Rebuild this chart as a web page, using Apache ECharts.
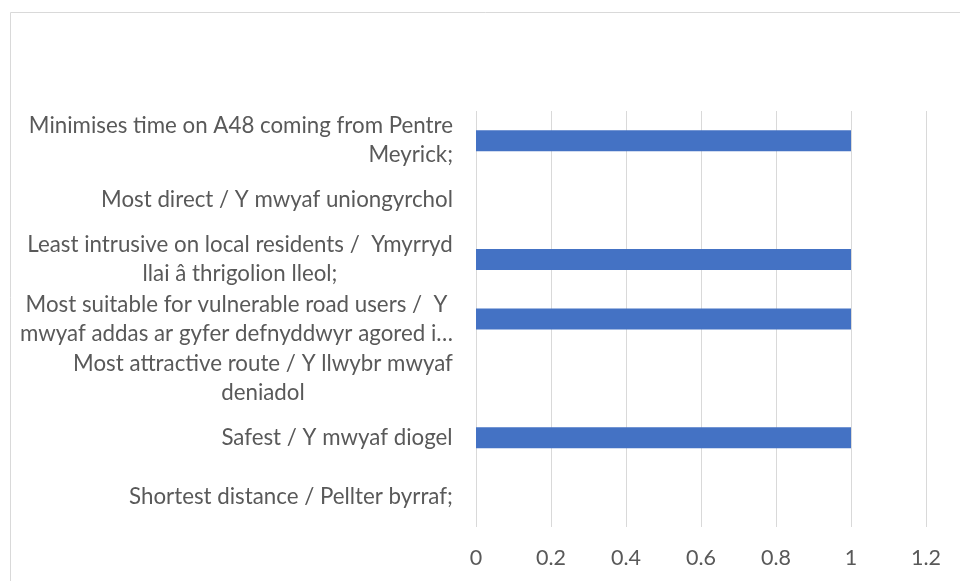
<!DOCTYPE html>
<html><head><meta charset="utf-8">
<script src="https://cdn.jsdelivr.net/npm/echarts@6/dist/echarts.min.js"></script>
<style>html,body{margin:0;padding:0;background:#fff}#c{width:960px;height:581px}</style>
</head><body><div id="c"></div>
<script>
const categories = [
  "Minimises time on A48 coming from Pentre\nMeyrick;",
  "Most direct / Y mwyaf uniongyrchol",
  "Least intrusive on local residents /  Ymyrryd\nllai â thrigolion lleol;",
  "Most suitable for vulnerable road users /  Y\nmwyaf addas ar gyfer defnyddwyr agored i…",
  "Most attractive route / Y llwybr mwyaf\ndeniadol",
  "Safest / Y mwyaf diogel",
  "Shortest distance / Pellter byrraf;"
];
const values = [1, 0, 1, 1, 0, 1, 0];
const xTicks = [0, 0.2, 0.4, 0.6, 0.8, 1, 1.2];

const FONT = 'Lato, "Open Sans", sans-serif';
const FS = 22.3;
const ctx = document.createElement('canvas').getContext('2d');
ctx.font = FS + 'px ' + FONT;
const rich = {};
categories.forEach((c, i) => {
  const w = Math.max(...c.split('\n').map(l => ctx.measureText(l).width));
  rich['l' + i] = {width: Math.ceil(w), align: i === 0 ? 'right' : 'center', fontSize: FS, fontFamily: FONT, color: '#595959', lineHeight: 29};
});

const chart = echarts.init(document.getElementById('c'));
chart.setOption({
  animation: false,
  graphic: [{type: 'rect', shape: {x: 10.5, y: 12.5, width: 1000, height: 700}, style: {fill: 'none', stroke: '#d9d9d9', lineWidth: 1}}],
  grid: {left: 476, right: 34, top: 111, bottom: 54},
  xAxis: {
    type: 'value', min: xTicks[0], max: xTicks[xTicks.length - 1], interval: 0.2,
    axisLine: {show: false}, axisTick: {show: false},
    splitLine: {lineStyle: {color: '#d9d9d9', width: 1}},
    axisLabel: {color: '#595959', fontSize: 21.5, fontFamily: FONT, margin: 20,
      formatter: v => { const t = xTicks.find(x => Math.abs(x - v) < 1e-9); return t === undefined ? '' : String(t); }}
  },
  yAxis: {
    type: 'category', data: categories, inverse: true,
    axisLine: {show: false}, axisTick: {show: false},
    axisLabel: {margin: 23, align: 'right',
      formatter: (v, i) => v.split('\n').map(l => '{l' + i + '|' + l + '}').join('\n'),
      rich: rich}
  },
  series: [{type: 'bar', data: values, barWidth: 21, itemStyle: {color: '#4472C4'}}]
});
</script></body></html>
